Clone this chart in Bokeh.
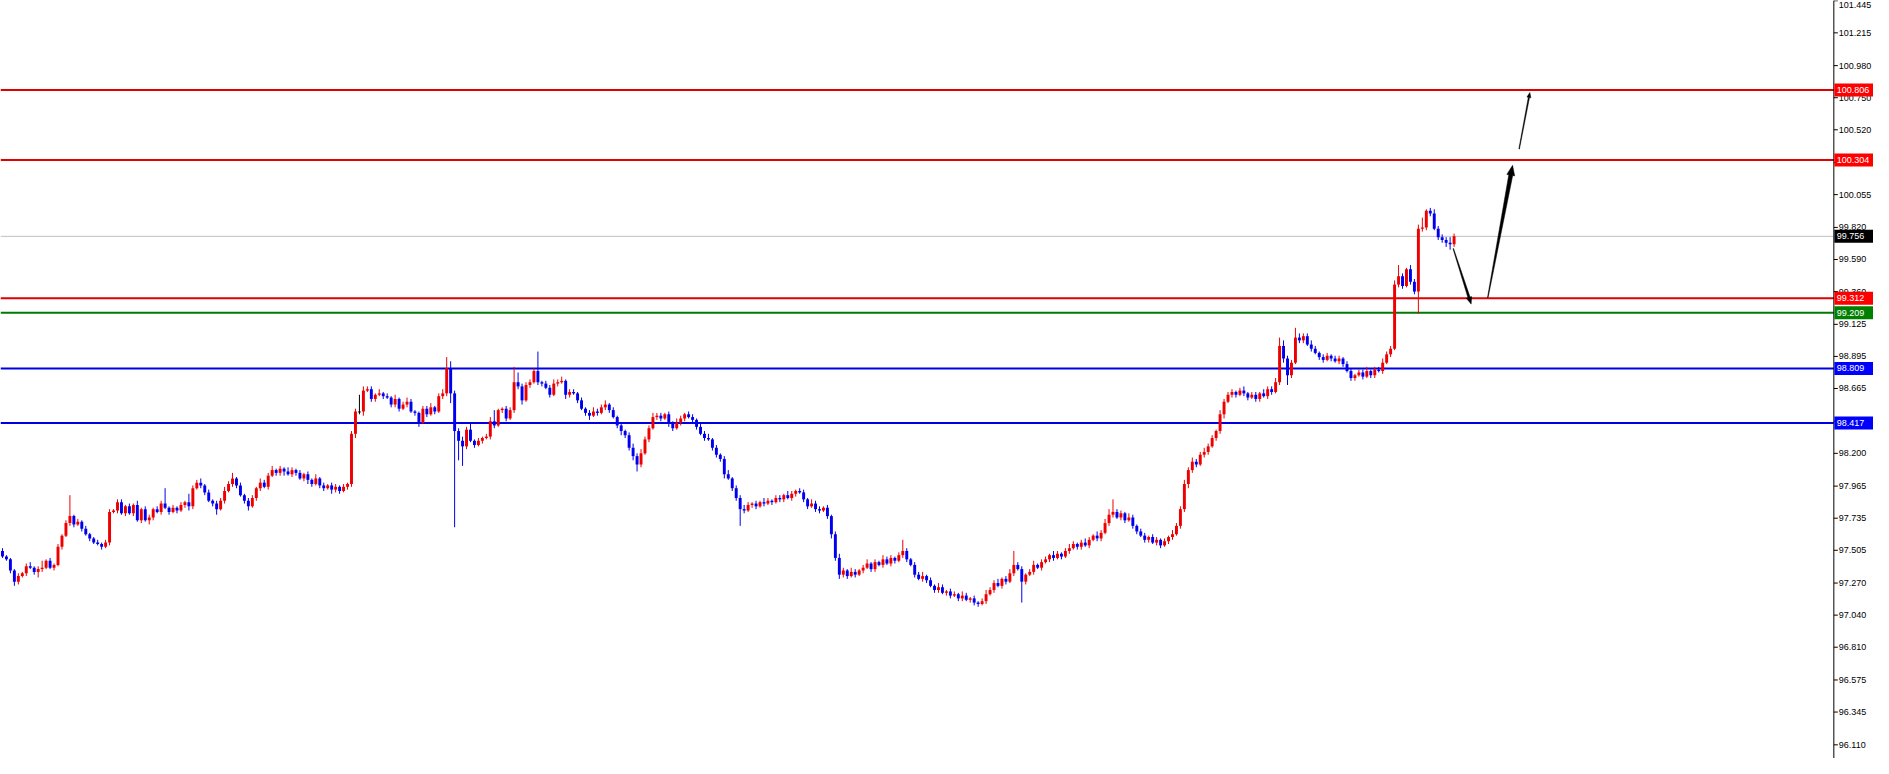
import numpy as np
from bokeh.plotting import figure
from bokeh.models import Range1d
from bokeh.core.properties import value
from bokeh.embed import file_html
from bokeh.resources import INLINE

# ---------------- data ----------------
first_open = 97.50
closes = [
    97.46, 97.44, 97.36, 97.28, 97.32, 97.34, 97.39, 97.38, 97.35, 97.37,
    97.38, 97.43, 97.38, 97.40, 97.53, 97.61, 97.70, 97.75, 97.69, 97.71,
    97.66, 97.62, 97.59, 97.56, 97.55, 97.53, 97.56, 97.78, 97.79, 97.85,
    97.77, 97.82, 97.77, 97.83, 97.72, 97.80, 97.72, 97.74, 97.80, 97.78,
    97.84, 97.81, 97.78, 97.81, 97.79, 97.83, 97.85, 97.82, 97.95, 97.99,
    97.97, 97.92, 97.86, 97.84, 97.80, 97.86, 97.93, 97.98, 98.02, 97.97,
    97.90, 97.86, 97.82, 97.88, 97.95, 97.99, 97.96, 98.04, 98.08, 98.06,
    98.09, 98.07, 98.05, 98.08, 98.06, 98.02, 98.05, 98.01, 97.98, 98.02,
    97.97, 97.95, 97.97, 97.94, 97.96, 97.93, 97.96, 97.98, 98.34, 98.50,
    98.50, 98.65, 98.66, 98.59, 98.62, 98.63, 98.61, 98.60, 98.55, 98.59,
    98.52, 98.55, 98.57, 98.50, 98.49, 98.42, 98.52, 98.48, 98.53, 98.50,
    98.61, 98.63, 98.81, 98.63, 98.36, 98.29, 98.25, 98.37, 98.29, 98.26,
    98.29, 98.31, 98.32, 98.43, 98.40, 98.51, 98.52, 98.45, 98.51, 98.71,
    98.68, 98.58, 98.69, 98.71, 98.79, 98.71, 98.70, 98.67, 98.62, 98.70,
    98.71, 98.72, 98.62, 98.64, 98.63, 98.58, 98.52, 98.49, 98.47, 98.50,
    98.49, 98.53, 98.55, 98.51, 98.46, 98.40, 98.36, 98.33, 98.24, 98.18,
    98.12, 98.20, 98.30, 98.38, 98.46, 98.47, 98.45, 98.48, 98.42, 98.38,
    98.42, 98.45, 98.48, 98.46, 98.44, 98.39, 98.34, 98.31, 98.30, 98.24,
    98.19, 98.16, 98.05, 98.02, 97.95, 97.88, 97.80, 97.79, 97.83, 97.84,
    97.82, 97.85, 97.84, 97.86, 97.85, 97.88, 97.87, 97.90, 97.88, 97.91,
    97.93, 97.92, 97.87, 97.82, 97.84, 97.80, 97.79, 97.81, 97.75, 97.62,
    97.45, 97.33, 97.36, 97.32, 97.35, 97.33, 97.36, 97.38, 97.41, 97.37,
    97.42, 97.40, 97.44, 97.41, 97.45, 97.43, 97.47, 97.50, 97.44, 97.40,
    97.33, 97.30, 97.32, 97.29, 97.25, 97.22, 97.24, 97.20, 97.21, 97.18,
    97.19, 97.16, 97.18, 97.15, 97.16, 97.13, 97.12, 97.14, 97.19, 97.22,
    97.27, 97.25, 97.30, 97.28, 97.34, 97.40, 97.37, 97.28, 97.33, 97.35,
    97.40, 97.38, 97.42, 97.44, 97.47, 97.45, 97.48, 97.46, 97.50, 97.52,
    97.55, 97.53, 97.56, 97.54, 97.58, 97.61, 97.59, 97.63, 97.70, 97.76,
    97.78, 97.74, 97.77, 97.72, 97.74, 97.68, 97.64, 97.61, 97.58, 97.60,
    97.56, 97.58, 97.54, 97.57, 97.60, 97.62, 97.68, 97.80, 97.98, 98.08,
    98.14, 98.12, 98.19, 98.21, 98.25, 98.31, 98.36, 98.48, 98.57, 98.62,
    98.64, 98.62, 98.65, 98.63, 98.60, 98.62, 98.59, 98.63, 98.61, 98.66,
    98.64, 98.71, 98.97, 98.88, 98.76, 98.85, 99.03, 99.01, 99.04, 98.98,
    98.95, 98.92, 98.89, 98.87, 98.90, 98.88, 98.86, 98.88, 98.84, 98.79,
    98.74, 98.76, 98.78, 98.75, 98.79, 98.76, 98.80, 98.79, 98.85, 98.91,
    98.95, 99.41, 99.47, 99.40, 99.52, 99.43, 99.36, 99.81, 99.82, 99.94,
    99.92, 99.81, 99.75, 99.73, 99.71, 99.70, 99.756,
]
# wick lengths beyond the body, in hundredths
upper_wick = [
    2, 1, 1, 1, 2, 1, 2, 3, 1, 2,
    5, 1, 2, 1, 2, 1, 2, 15, 1, 2,
    1, 2, 1, 1, 2, 1, 2, 2, 1, 2,
    2, 1, 2, 1, 3, 1, 2, 2, 1, 2,
    2, 11, 1, 2, 1, 2, 1, 6, 2, 2,
    3, 1, 2, 1, 2, 2, 3, 2, 4, 1,
    2, 1, 2, 2, 1, 3, 2, 2, 3, 1,
    2, 1, 3, 2, 1, 2, 1, 2, 1, 3,
    1, 2, 1, 2, 2, 1, 2, 1, 2, 2,
    12, 3, 2, 2, 1, 3, 1, 2, 1, 3,
    1, 2, 3, 2, 1, 1, 2, 2, 3, 1,
    2, 3, 8, 5, 2, 2, 3, 2, 5, 1,
    2, 1, 2, 3, 8, 1, 1, 2, 2, 11,
    7, 2, 2, 2, 2, 14, 1, 2, 2, 3,
    2, 3, 1, 2, 2, 1, 2, 1, 2, 3,
    2, 2, 3, 1, 2, 1, 2, 1, 2, 3,
    2, 3, 2, 2, 3, 2, 2, 1, 2, 1,
    3, 2, 1, 2, 2, 1, 2, 2, 3, 1,
    2, 1, 2, 3, 1, 2, 2, 3, 2, 1,
    2, 1, 3, 2, 1, 2, 2, 1, 3, 2,
    1, 2, 2, 1, 3, 2, 2, 1, 2, 1,
    2, 3, 2, 1, 3, 2, 1, 2, 3, 1,
    2, 1, 3, 2, 2, 1, 2, 8, 2, 1,
    2, 2, 3, 1, 2, 1, 3, 2, 1, 2,
    2, 1, 3, 2, 1, 2, 1, 2, 3, 2,
    2, 3, 1, 2, 3, 10, 2, 2, 1, 2,
    3, 1, 2, 2, 1, 3, 2, 1, 2, 3,
    2, 1, 2, 3, 2, 1, 3, 2, 3, 4,
    9, 2, 2, 1, 3, 2, 1, 2, 2, 1,
    2, 2, 1, 2, 1, 3, 2, 2, 3, 2,
    3, 2, 2, 3, 2, 2, 1, 3, 2, 2,
    2, 1, 2, 3, 1, 2, 2, 1, 3, 2,
    2, 3, 6, 4, 2, 2, 7, 3, 2, 2,
    3, 2, 1, 2, 2, 1, 2, 2, 1, 2,
    2, 1, 2, 2, 3, 1, 2, 2, 3, 2,
    2, 3, 8, 2, 1, 3, 2, 3, 7, 1,
    2, 3, 2, 2, 2, 4, 2,
]
lower_wick = [
    1, 1, 2, 3, 2, 1, 2, 1, 2, 4,
    2, 1, 1, 2, 1, 2, 1, 2, 2, 1,
    2, 1, 2, 1, 1, 2, 1, 2, 1, 2,
    1, 2, 1, 2, 1, 2, 1, 3, 2, 1,
    2, 1, 2, 1, 2, 1, 2, 3, 2, 1,
    2, 2, 1, 2, 4, 1, 2, 1, 2, 2,
    1, 2, 3, 1, 2, 2, 1, 2, 1, 2,
    2, 3, 1, 2, 2, 1, 2, 3, 2, 1,
    2, 2, 1, 3, 2, 2, 1, 2, 2, 3,
    2, 3, 1, 2, 2, 1, 2, 1, 2, 2,
    2, 1, 2, 1, 2, 3, 1, 2, 1, 2,
    1, 2, 2, 7, 69, 14, 14, 2, 1, 2,
    1, 2, 1, 2, 2, 1, 2, 2, 1, 2,
    2, 3, 1, 2, 1, 2, 2, 1, 2, 1,
    2, 1, 3, 2, 1, 2, 1, 2, 3, 1,
    2, 1, 2, 2, 1, 2, 3, 2, 2, 3,
    5, 2, 1, 2, 1, 2, 2, 1, 3, 2,
    1, 2, 2, 1, 2, 2, 1, 2, 1, 2,
    2, 2, 3, 1, 2, 2, 12, 2, 1, 2,
    2, 1, 2, 1, 2, 1, 2, 2, 1, 2,
    2, 1, 2, 2, 1, 2, 2, 1, 2, 3,
    2, 3, 2, 2, 1, 2, 1, 2, 1, 2,
    2, 1, 2, 1, 2, 2, 1, 2, 2, 1,
    2, 1, 2, 2, 1, 2, 2, 1, 2, 2,
    1, 2, 2, 1, 2, 2, 2, 1, 2, 1,
    2, 1, 2, 2, 1, 2, 1, 15, 2, 1,
    2, 1, 2, 1, 2, 2, 1, 2, 1, 2,
    1, 2, 2, 1, 2, 1, 2, 2, 1, 2,
    2, 1, 2, 2, 1, 2, 2, 1, 2, 2,
    1, 2, 2, 1, 2, 2, 1, 2, 2, 3,
    2, 2, 1, 2, 2, 1, 2, 2, 3, 1,
    2, 2, 1, 2, 2, 1, 2, 2, 1, 2,
    2, 1, 2, 3, 7, 2, 1, 2, 2, 1,
    2, 1, 2, 2, 1, 2, 1, 2, 2, 1,
    2, 2, 1, 2, 1, 2, 2, 1, 2, 1,
    2, 1, 2, 2, 1, 2, 2, 16, 2, 2,
    2, 1, 2, 2, 3, 4, 2,
]

level_prices = [100.806, 100.304, 99.312, 99.209, 98.809, 98.417]
level_line_colors = ["#e00000", "#e00000", "#e00000", "#007a00", "#0000e0", "#0000e0"]
level_box_colors = ["#ff0000", "#ff0000", "#ff0000", "#008000", "#0000ff", "#0000ff"]
current_price = 99.756

y_ticks = [96.110, 96.345, 96.575, 96.810, 97.040, 97.270, 97.505, 97.735,
           97.965, 98.200, 98.430, 98.665, 98.895, 99.125, 99.360, 99.590,
           99.820, 100.055, 100.285, 100.520, 100.750, 100.980, 101.215, 101.445]

# forecast arrows: start (bar index, price) -> tip (bar index, price)
arrow_x0 = [365.8, 374.5, 382.4]
arrow_y0 = [99.668, 99.317, 100.382]
arrow_x1 = [370.3, 380.75, 385.1]
arrow_y1 = [99.270, 100.265, 100.787]

# ---------------- styling / geometry ----------------
RED = "#ee0000"
BLUE = "#0000ee"
X0, X1 = -0.5, 471.75        # full canvas width (price scale drawn inside)
AXIS_X = 461.75              # where the price scale starts
Y0, Y1 = 96.012, 101.447
FW, FH = 1873, 758
FONT = "Liberation Sans"
FSIZE = "9px"

sx = FW / (X1 - X0)
sy = FH / (Y1 - Y0)

# ---------------- build ----------------
n = len(closes)
idx = np.arange(n)
c = np.array(closes)
o = np.concatenate([[first_open], c[:-1]])
top = np.maximum(o, c)
bot = np.minimum(o, c)
hi = top + np.array(upper_wick) / 100.0
lo = bot - np.array(lower_wick) / 100.0
col = np.where(c > o, RED, np.where(c < o, BLUE, "#000000"))
bot_draw = np.where(top - bot < 0.006, top - 0.006, bot)

p = figure(frame_width=FW, frame_height=FH,
           x_range=Range1d(X0, X1), y_range=Range1d(Y0, Y1),
           output_backend="svg", toolbar_location=None,
           x_axis_location=None, y_axis_location=None,
           min_border_left=0, min_border_right=0,
           min_border_top=0, min_border_bottom=0)
p.outline_line_color = None
p.grid.visible = False
p.background_fill_color = "white"
p.border_fill_color = "white"

# level lines (stop at the price scale)
p.segment(x0=[X0], y0=[current_price], x1=[AXIS_X], y1=[current_price],
          line_color="#c0c0c0", line_width=1)
p.segment(x0=[X0] * len(level_prices), y0=level_prices,
          x1=[AXIS_X] * len(level_prices), y1=level_prices,
          line_color=level_line_colors, line_width=2)

# candles
p.segment(x0=idx, y0=hi, x1=idx, y1=lo, line_color=col, line_width=1)
p.vbar(x=idx, width=0.74, top=top, bottom=bot_draw, fill_color=col, line_color=None)

# arrows (tapered polygons)
arrow_w0 = [0.6, 0.6, 0.6]
arrow_w1 = [2.2, 4.0, 1.2]
head_len = [7, 10, 5]
head_hw = [2.8, 4.0, 2.0]
for k in range(len(arrow_x0)):
    P0 = np.array([arrow_x0[k] * sx, arrow_y0[k] * sy])
    P1 = np.array([arrow_x1[k] * sx, arrow_y1[k] * sy])
    d = (P1 - P0) / np.linalg.norm(P1 - P0)
    nv = np.array([-d[1], d[0]])
    B = P1 - d * head_len[k]
    pts = [P0 + nv * arrow_w0[k] / 2, B + nv * arrow_w1[k] / 2, B + nv * head_hw[k], P1,
           B - nv * head_hw[k], B - nv * arrow_w1[k] / 2, P0 - nv * arrow_w0[k] / 2]
    p.patch([q[0] / sx for q in pts], [q[1] / sy for q in pts],
            fill_color="black", line_color="black", line_width=0.5)

# price scale: axis line, ticks, labels
p.segment(x0=[AXIS_X], y0=[Y0], x1=[AXIS_X], y1=[Y1], line_color="black", line_width=1)
tick_len = 4 / sx
p.segment(x0=[AXIS_X] * len(y_ticks), y0=y_ticks,
          x1=[AXIS_X + tick_len] * len(y_ticks), y1=y_ticks,
          line_color="black", line_width=1)
# labels that fit inside the canvas are centred on their tick; the topmost
# one sits right at the top edge, so it hangs below its tick instead
inner_ticks = [t for t in y_ticks if t + 5.5 / sy <= Y1]
edge_ticks = [t for t in y_ticks if t + 5.5 / sy > Y1]
p.text(x=[AXIS_X] * len(inner_ticks), y=inner_ticks, text=[f"{t:.3f}" for t in inner_ticks],
       x_offset=5, text_font=value(FONT), text_font_size=value(FSIZE),
       text_color="black", text_baseline="middle", text_align="left")
p.text(x=[AXIS_X] * len(edge_ticks), y=[Y1] * len(edge_ticks), text=[f"{t:.3f}" for t in edge_ticks],
       x_offset=5, y_offset=1, text_font=value(FONT), text_font_size=value(FSIZE),
       text_color="black", text_baseline="top", text_align="left")

# price boxes on the scale
box_prices = level_prices[:2] + [current_price] + level_prices[2:]
box_colors = level_box_colors[:2] + ["#000000"] + level_box_colors[2:]
half_h = 6.5 / sy
p.quad(left=[AXIS_X + 0.5 / sx] * len(box_prices), right=[X1] * len(box_prices),
       top=[b + half_h for b in box_prices], bottom=[b - half_h for b in box_prices],
       fill_color=box_colors, line_color=None)
p.text(x=[AXIS_X] * len(box_prices), y=box_prices, text=[f"{b:.3f}" for b in box_prices],
       x_offset=3, text_font=value(FONT), text_font_size=value(FSIZE),
       text_color="white", text_baseline="middle", text_align="left")

open("out.html", "w").write(file_html(p, INLINE))
